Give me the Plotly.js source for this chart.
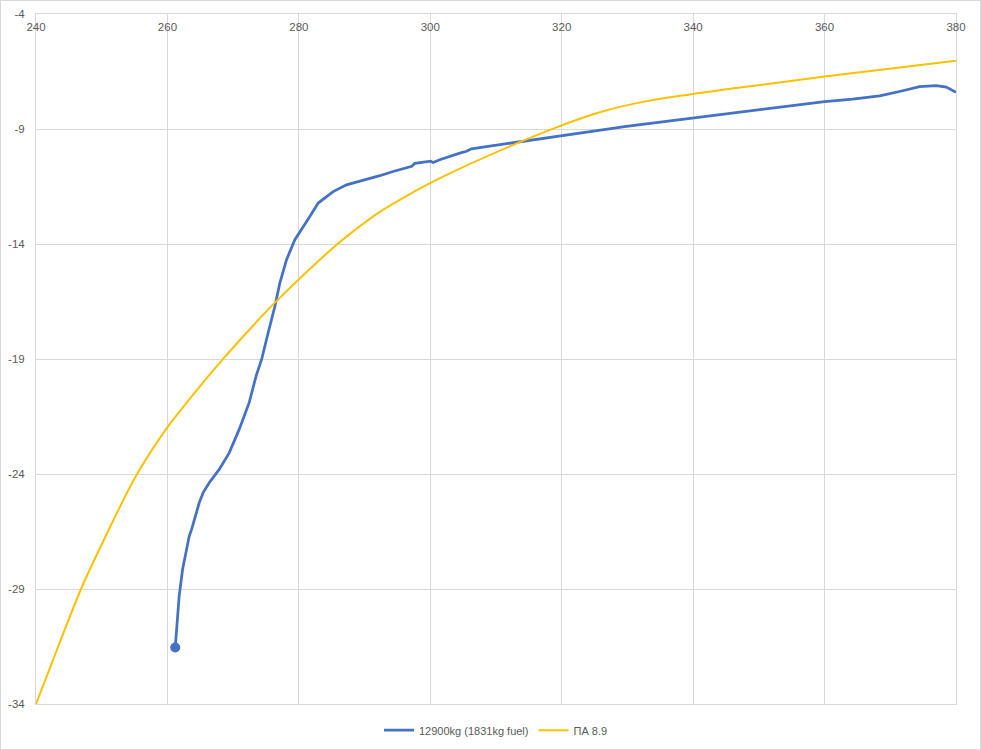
<!DOCTYPE html>
<html>
<head>
<meta charset="utf-8">
<script src="https://cdn.plot.ly/plotly-3.0.1.min.js"></script>
<style>
  html, body { margin: 0; padding: 0; background: #fff; }
  #wrap { position: relative; width: 981px; height: 750px; }
  #chart { width: 981px; height: 750px; }
  #frame { position: absolute; left: 0; top: 0; width: 979px; height: 748px; border: 1px solid #d9d9d9; pointer-events: none; }
</style>
</head>
<body>
<div id="wrap"><div id="chart"></div><div id="frame"></div></div>
<script>
// Series 1: 12900kg (1831kg fuel)
const blueX = [261.19, 261.79, 262.31, 262.92, 263.32, 263.68, 264.44, 264.84, 265.44, 266.36,
  267.88, 269.40, 270.92, 272.44, 273.51, 274.33, 275.33, 276.35, 277.11, 278.13,
  279.39, 280.41, 281.67, 282.94, 284.21, 285.22, 287.25, 289.28, 292.32, 294.34,
  296.88, 297.19, 297.64, 299.67, 300.08, 300.43, 301.44, 304.49, 305.51, 306.27,
  313.61, 319.70, 322.74, 329.84, 339.97, 350.11, 360.00, 364.30, 368.37, 371.41,
  374.45, 376.99, 378.51, 380.00];
const blueY = [-31.54, -29.30, -28.14, -27.27, -26.70, -26.41, -25.61, -25.25, -24.81, -24.38,
  -23.80, -23.08, -22.06, -20.90, -19.72, -19.02, -17.86, -16.71, -15.69, -14.68,
  -13.81, -13.38, -12.80, -12.22, -11.93, -11.72, -11.43, -11.28, -11.03, -10.85,
  -10.67, -10.62, -10.49, -10.41, -10.40, -10.46, -10.34, -10.05, -9.97, -9.86,
  -9.57, -9.30, -9.18, -8.89, -8.53, -8.17, -7.81, -7.70, -7.56, -7.37,
  -7.16, -7.11, -7.18, -7.40];

// Series 2: ПА 8.9
const yellowX = [240.00, 243.04, 246.84, 250.14, 255.21, 259.77, 263.32, 268.40, 272.70, 276.35,
  285.48, 288.26, 292.32, 297.38, 300.94, 313.61, 320.20, 325.78, 332.36, 339.97,
  350.11, 360.00, 380.00];
const yellowY = [-34.00, -31.75, -29.01, -26.98, -24.09, -22.06, -20.76, -19.02, -17.65, -16.55,
  -14.10, -13.45, -12.60, -11.75, -11.21, -9.57, -8.82, -8.27, -7.82, -7.48,
  -7.09, -6.72, -6.03];

const seriesNames = ["12900kg (1831kg fuel)", "ПА 8.9"];
const xTicks = [240, 260, 280, 300, 320, 340, 360, 380];
const yTicks = [-34, -29, -24, -19, -14, -9, -4];

const BLUE = "#4472C4", YELLOW = "#FFC000", GRID = "#d9d9d9", TXT = "#595959";

const traces = [
  { x: blueX, y: blueY, name: seriesNames[0], type: "scatter", mode: "lines",
    line: { color: BLUE, width: 2.75 } },
  { x: yellowX, y: yellowY, name: seriesNames[1], type: "scatter", mode: "lines",
    line: { color: YELLOW, width: 2, shape: "spline", smoothing: 1 } },
  { x: [blueX[0]], y: [blueY[0]], type: "scatter", mode: "markers", showlegend: false,
    marker: { color: BLUE, size: 10 }, hoverinfo: "skip" }
];

const layout = {
  width: 981, height: 750,
  margin: { l: 36, r: 25, t: 14, b: 46, autoexpand: false },
  paper_bgcolor: "#ffffff", plot_bgcolor: "#ffffff",
  font: { family: "Liberation Sans, Arial, sans-serif", size: 11, color: TXT },
  xaxis: {
    range: [240, 380], tickvals: xTicks, ticktext: xTicks.map(String),
    side: "top", ticklabelposition: "inside", ticklabeloverflow: "allow",
    ticklabelstandoff: 8,
    showgrid: true, gridcolor: GRID, gridwidth: 1,
    showline: true, linecolor: GRID, linewidth: 1, mirror: true,
    zeroline: false, ticks: "", automargin: false, tickfont: { size: 11.5, color: TXT }
  },
  yaxis: {
    range: [-34, -4], tickvals: yTicks, ticktext: yTicks.map(String),
    ticklabelstandoff: 8,
    showgrid: true, gridcolor: GRID, gridwidth: 1,
    showline: true, linecolor: GRID, linewidth: 1, mirror: true,
    zeroline: false, ticks: "", automargin: false, tickfont: { size: 11.5, color: TXT }
  },
  legend: {
    orientation: "h", x: 0.5, xanchor: "center", y: -0.038, yanchor: "middle",
    font: { size: 11, color: TXT }, itemwidth: 30, tracegroupgap: 0
  },
  showlegend: true
};

Plotly.newPlot("chart", traces, layout, { displayModeBar: false, staticPlot: true });
</script>
</body>
</html>
